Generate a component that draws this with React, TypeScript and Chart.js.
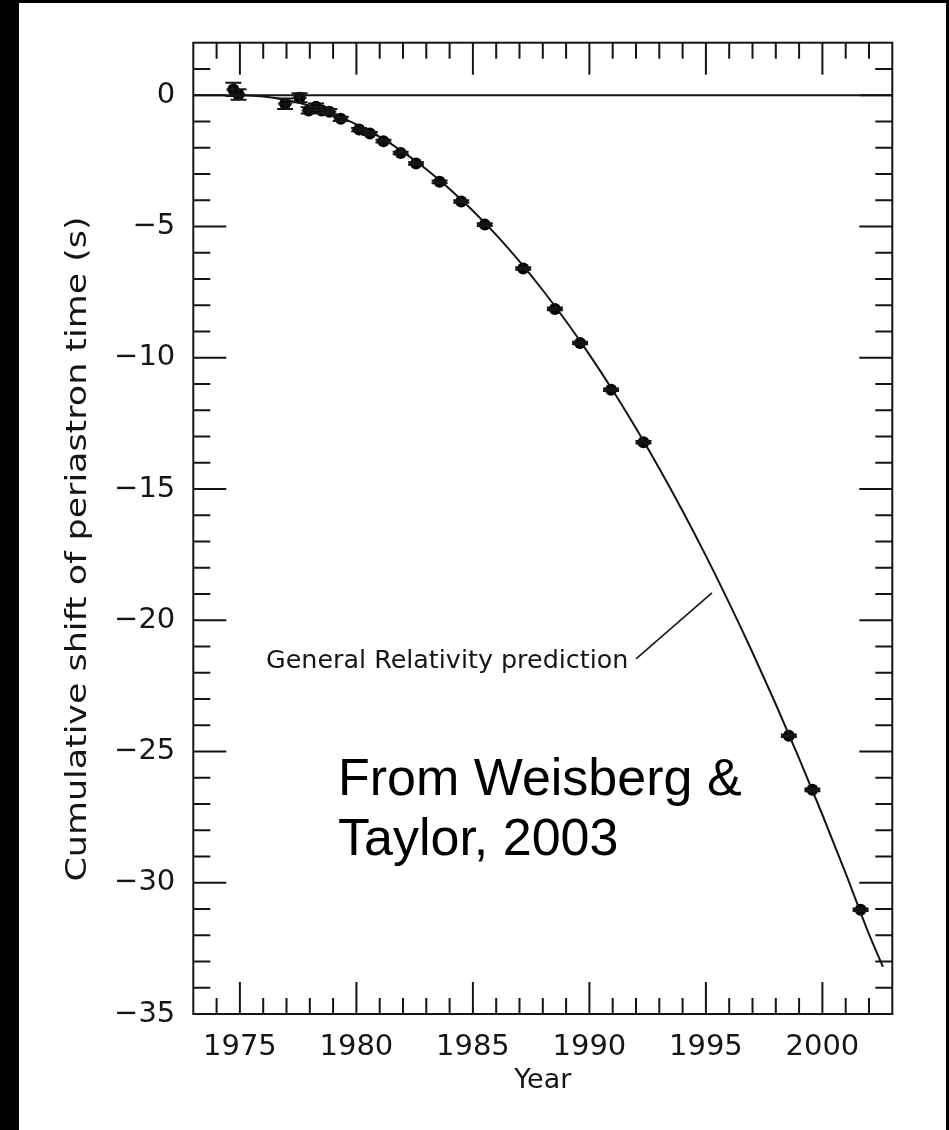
import React, { useEffect, useRef } from "react";
import { Chart, registerables } from "chart.js";

Chart.register(...registerables);

// ---- Data ----
const obsYears = [
  1974.72, 1974.94, 1976.94, 1977.56, 1977.95, 1978.27, 1978.51, 1978.84, 1979.33,
  1980.12, 1980.58, 1981.16, 1981.9, 1982.56, 1983.57, 1984.5, 1985.51, 1987.16,
  1988.52, 1989.6, 1990.93, 1992.32, 1998.56, 1999.57, 2001.64,
];
const obsShift = [
  0.22, 0.03, -0.33, -0.1, -0.58, -0.44, -0.58, -0.63, -0.9,
  -1.31, -1.46, -1.75, -2.2, -2.6, -3.3, -4.05, -4.93, -6.6,
  -8.14, -9.44, -11.22, -13.22, -24.4, -26.46, -31.03,
];
const obsYErr = [
  0.25, 0.2, 0.2, 0.17, 0.12, 0.12, 0.1, 0.1, 0.08,
  0.06, 0.06, 0.05, 0.05, 0.05, 0.05, 0.05, 0.05, 0.05,
  0.05, 0.05, 0.05, 0.05, 0.05, 0.05, 0.05,
];
const obsXErr = [
  0.3, 0.3, 0.3, 0.3, 0.3, 0.3, 0.3, 0.3, 0.3,
  0.3, 0.3, 0.3, 0.3, 0.3, 0.3, 0.3, 0.33, 0.33,
  0.33, 0.33, 0.33, 0.33, 0.33, 0.33, 0.33,
];

const curveYears = [
  1975, 1976, 1977, 1978, 1979, 1980, 1981, 1982, 1983, 1984, 1985, 1986, 1987, 1988,
  1989, 1990, 1991, 1992, 1993, 1994, 1995, 1996, 1997, 1998, 1999, 2000, 2001, 2002, 2002.6,
];
const curveShift = [
  0, -0.05, -0.18, -0.4, -0.72, -1.11, -1.59, -2.16, -2.82, -3.57, -4.4, -5.32, -6.33, -7.43,
  -8.61, -9.88, -11.24, -12.69, -14.22, -15.84, -17.55, -19.35, -21.23, -23.2, -25.26, -27.41,
  -29.64, -31.96, -33.2,
];

const zeroLineYears = [1973, 2003];
const zeroLineShift = [0, 0];

const leaderYears = [1992.0, 1995.26];
const leaderShift = [-21.47, -18.96];

const xTickLabels = [1975, 1980, 1985, 1990, 1995, 2000];
const yTickLabels = [0, -5, -10, -15, -20, -25, -30, -35];

const X_MIN = 1973;
const X_MAX = 2003;
const Y_MIN = -35;
const Y_MAX = 2;

const annotationText = "General Relativity prediction";
const annotationAt = { x: 1976.12, y: -21.82 };
const sourceLines = ["From Weisberg &", "Taylor, 2003"];
const sourceAt = { x: 1979.21, y1: -26.65, y2: -28.93 };
const yTitle = "Cumulative shift of periastron time (s)";
const xTitle = "Year";

const INK = "#151515";
const HERSHEY = '"DejaVu Sans", sans-serif';

const pts = (xs: number[], ys: number[]) => xs.map((x, i) => ({ x, y: ys[i] }));

const pageFrame = {
  id: "pageFrame",
  beforeDraw(chart: any) {
    const { ctx, width, height } = chart;
    ctx.save();
    ctx.fillStyle = "#000";
    ctx.fillRect(0, 0, width, height);
    ctx.fillStyle = "#fff";
    ctx.fillRect(19, 3, 927, height - 3);
    ctx.restore();
  },
};

const errorBars = {
  id: "errorBars",
  afterDatasetsDraw(chart: any) {
    const { ctx, scales } = chart;
    const x = scales.x;
    const y = scales.y;
    ctx.save();
    ctx.strokeStyle = INK;
    ctx.lineWidth = 2;
    ctx.beginPath();
    obsYears.forEach((yr, i) => {
      const px = x.getPixelForValue(yr);
      const py = y.getPixelForValue(obsShift[i]);
      const x0 = x.getPixelForValue(yr - obsXErr[i]);
      const x1 = x.getPixelForValue(yr + obsXErr[i]);
      ctx.moveTo(x0, py);
      ctx.lineTo(x1, py);
      const yTop = y.getPixelForValue(obsShift[i] + obsYErr[i]);
      const yBot = y.getPixelForValue(obsShift[i] - obsYErr[i]);
      ctx.moveTo(px, yTop);
      ctx.lineTo(px, yBot);
      ctx.moveTo(px - 8, yTop);
      ctx.lineTo(px + 8, yTop);
      ctx.moveTo(px - 8, yBot);
      ctx.lineTo(px + 8, yBot);
    });
    ctx.stroke();
    ctx.restore();
  },
};

const frameTicks = {
  id: "frameTicks",
  afterDraw(chart: any) {
    const { ctx, chartArea: ca, scales } = chart;
    const x = scales.x;
    const y = scales.y;
    ctx.save();
    ctx.strokeStyle = INK;
    ctx.lineWidth = 2;
    ctx.strokeRect(ca.left, ca.top, ca.right - ca.left, ca.bottom - ca.top);
    ctx.beginPath();
    for (let v = X_MIN + 1; v < X_MAX; v++) {
      const px = x.getPixelForValue(v);
      const len = v % 5 === 0 ? 32 : 16;
      ctx.moveTo(px, ca.bottom);
      ctx.lineTo(px, ca.bottom - len);
      ctx.moveTo(px, ca.top);
      ctx.lineTo(px, ca.top + len);
    }
    for (let v = Y_MIN + 1; v < Y_MAX; v++) {
      const py = y.getPixelForValue(v);
      const len = v % 5 === 0 ? 33 : 17;
      ctx.moveTo(ca.left, py);
      ctx.lineTo(ca.left + len, py);
      ctx.moveTo(ca.right, py);
      ctx.lineTo(ca.right - len, py);
    }
    ctx.stroke();
    ctx.restore();
  },
};

const texts = {
  id: "texts",
  afterDraw(chart: any) {
    const { ctx, scales } = chart;
    const x = scales.x;
    const y = scales.y;
    ctx.save();
    ctx.fillStyle = INK;
    ctx.textBaseline = "alphabetic";
    ctx.textAlign = "left";
    ctx.font = `25.4px ${HERSHEY}`;
    ctx.fillText(annotationText, x.getPixelForValue(annotationAt.x), y.getPixelForValue(annotationAt.y));

    ctx.fillStyle = "#000";
    ctx.font = '52px "Liberation Sans", Arial, sans-serif';
    const sx = x.getPixelForValue(sourceAt.x);
    ctx.fillText(sourceLines[0], sx, y.getPixelForValue(sourceAt.y1));
    ctx.fillText(sourceLines[1], sx, y.getPixelForValue(sourceAt.y2));

    // rotated y-axis title
    ctx.fillStyle = INK;
    ctx.translate(86, 549);
    ctx.rotate(-Math.PI / 2);
    ctx.font = `28px ${HERSHEY}`;
    const w = ctx.measureText(yTitle).width;
    ctx.scale(665 / w, 1);
    ctx.textAlign = "center";
    ctx.fillText(yTitle, 0, 0);
    ctx.restore();
  },
};

export default function App() {
  const ref = useRef<HTMLCanvasElement | null>(null);

  useEffect(() => {
    if (!ref.current) return;
    const chart = new Chart(ref.current, {
      type: "scatter",
      data: {
        datasets: [
          {
            label: "zero",
            data: pts(zeroLineYears, zeroLineShift),
            showLine: true,
            borderColor: INK,
            borderWidth: 2,
            pointRadius: 0,
          },
          {
            label: "General Relativity prediction",
            data: pts(curveYears, curveShift),
            showLine: true,
            borderColor: INK,
            borderWidth: 2,
            pointRadius: 0,
            cubicInterpolationMode: "monotone",
          },
          {
            label: "leader",
            data: pts(leaderYears, leaderShift),
            showLine: true,
            borderColor: INK,
            borderWidth: 1.6,
            pointRadius: 0,
          },
          {
            label: "Observed",
            data: pts(obsYears, obsShift),
            pointRadius: 6,
            pointBackgroundColor: "#000",
            pointBorderWidth: 0,
            borderWidth: 0,
          },
        ],
      } as any,
      options: {
        animation: false,
        responsive: false,
        events: [],
        layout: { padding: { top: 42.7, right: 56.7, bottom: 0, left: 0 } },
        plugins: { legend: { display: false }, tooltip: { enabled: false } },
        scales: {
          x: {
            type: "linear",
            min: X_MIN,
            max: X_MAX,
            grid: { display: false, drawTicks: false },
            border: { display: false },
            ticks: {
              color: INK,
              font: { family: HERSHEY, size: 29 },
              padding: 16,
              maxRotation: 0,
              autoSkip: false,
              callback: (v: any) => String(v),
            },
            afterBuildTicks: (s: any) => {
              s.ticks = xTickLabels.map((v) => ({ value: v }));
            },
            afterFit: (s: any) => {
              s.height = 116;
            },
            title: {
              display: true,
              text: xTitle,
              color: INK,
              font: { family: HERSHEY, size: 27 },
              padding: { top: 0, bottom: 33 },
            },
          },
          y: {
            type: "linear",
            min: Y_MIN,
            max: Y_MAX,
            grid: { display: false, drawTicks: false },
            border: { display: false },
            ticks: {
              color: INK,
              font: { family: HERSHEY, size: 29 },
              padding: 18,
              autoSkip: false,
              callback: (v: any) => (v === 0 ? "0" : "\u2212" + Math.abs(v)),
            },
            afterBuildTicks: (s: any) => {
              s.ticks = yTickLabels.map((v) => ({ value: v }));
            },
            afterFit: (s: any) => {
              s.width = 193.3;
            },
          },
        },
      } as any,
      plugins: [pageFrame, errorBars, frameTicks, texts],
    });
    return () => chart.destroy();
  }, []);

  return (
    <div style={{ position: "fixed", left: 0, top: 0, width: 949, height: 1130 }}>
      <canvas ref={ref} width={949} height={1130} style={{ width: 949, height: 1130, display: "block" }} />
    </div>
  );
}
